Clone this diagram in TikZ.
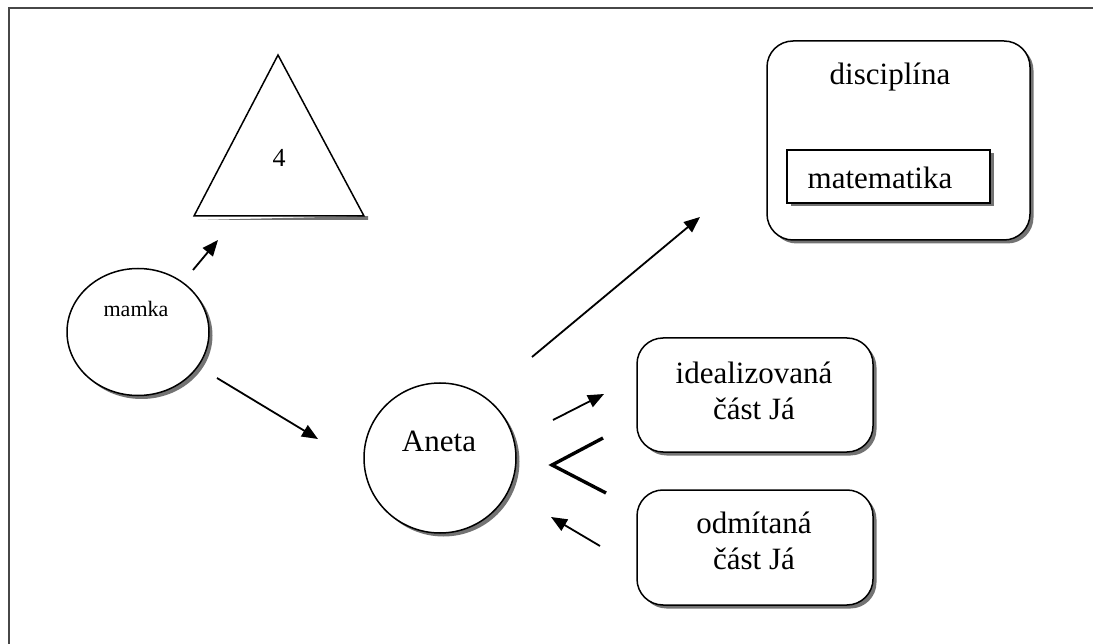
\documentclass[tikz,border=0pt]{standalone}
\usepackage{fontspec}
\setmainfont{Liberation Serif}
\usetikzlibrary{arrows.meta,shapes.geometric,shadows}

\tikzset{
  frameline/.style={line width=2pt, draw=black!72},
  shade/.style={drop shadow={shadow xshift=3.5pt, shadow yshift=-3.5pt, fill=black!55, opacity=1}},
  blob/.style={ellipse, draw=black, line width=1.5pt, fill=white, shade},
  roundbox/.style={rectangle, rounded corners=26pt, draw=black, line width=1.5pt, fill=white, shade},
  plainbox/.style={rectangle, draw=black, line width=1.5pt, fill=white, shade},
  bigtext/.style={font=\fontsize{31}{36}\selectfont, align=center, inner sep=0pt},
  smalltext/.style={font=\fontsize{22}{26}\selectfont, inner sep=0pt},
  link/.style={line width=1.8pt, -{Triangle[length=16pt,width=13pt]}},
}

\begin{document}
\begin{tikzpicture}[x=1pt, y=-1pt]
\useasboundingbox (0,0) rectangle (1093,644);

% outer frame, running off the right and lower edges
\draw[frameline] (9,644) -- (9,8) -- (1093,8);

% triangle with its shadow
\coordinate (tA) at (278,55);
\coordinate (tL) at (194,216);
\coordinate (tR) at (364,216);
\fill[black!55] ([shift={(3.5,4)}]tL) -- ([shift={(4,4)}]tR) -- ([shift={(4,0)}]tR) -- cycle;
\draw[line width=1.5pt, fill=white, line join=miter] (tA) -- (tR) -- (tL) -- cycle;
\node[inner sep=0pt, font=\fontsize{26}{28}\selectfont] (four) at (279,158) {4};

% the two people
\node[blob, minimum width=142pt, minimum height=127pt] (mamka) at (138,332) {};
\node[smalltext] (mamkatext) at (136,309) {mamka};
\node[blob, minimum width=152pt, minimum height=150pt] (aneta) at (440,458) {};
\node[bigtext] (anetatext) at (439,441) {Aneta};

% discipline box with its inner label box
\node[roundbox, minimum width=263pt, minimum height=199pt] (disc) at (898.5,140.5) {};
\node[bigtext] (disctext) at (890,77) {disciplína};
\node[plainbox, minimum width=203pt, minimum height=53pt] (mat) at (888.5,176.5) {};
\node[bigtext] (mattext) at (880,178) {matematika};

% the two parts of the self
\node[roundbox, minimum width=236pt, minimum height=114pt] (ideal) at (755,395) {};
\node[bigtext] (idealtext) at (754,391) {idealizovaná\\část Já};
\node[roundbox, minimum width=236pt, minimum height=115pt] (reject) at (755,547.5) {};
\node[bigtext] (rejecttext) at (754,541) {odmítaná\\část Já};

% comparison sign between the two parts
\coordinate (ltTop) at (603,438);
\coordinate (ltTip) at (552,465);
\coordinate (ltBot) at (606,493);
\draw[line width=3.4pt] (ltTop) -- (ltTip) -- (ltBot);

% arrow end points
\coordinate (m1) at (193,270);
\coordinate (m2) at (218,240);
\coordinate (m3) at (217,378);
\coordinate (m4) at (318,439);
\coordinate (a1) at (532,357);
\coordinate (a2) at (700,217);
\coordinate (a3) at (553,420);
\coordinate (a4) at (604,394);
\coordinate (r1) at (600,546);
\coordinate (r2) at (551,517);

\draw[link] (m1) -- (m2);
\draw[link] (m3) -- (m4);
\draw[link] (a1) -- (a2);
\draw[link] (a3) -- (a4);
\draw[link] (r1) -- (r2);
\end{tikzpicture}
\end{document}
